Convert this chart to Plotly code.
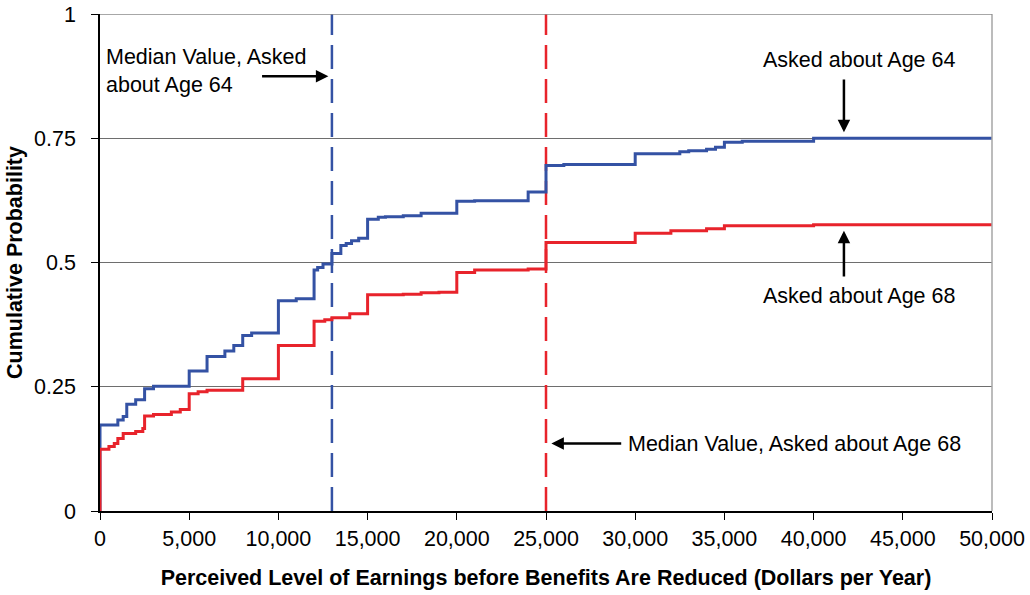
import plotly.graph_objects as go

# Blue: asked about age 64 (step CDF)
blue_x = [0, 0, 1000, 1300, 1500, 2000, 2500, 3000, 5000, 6000, 7000, 7500, 8000, 8500,
          10000, 11000, 12000, 12200, 12500, 13000, 13500, 13800, 14100, 14500, 15000,
          15600, 16000, 17000, 18000, 20000, 21000, 24000, 25000, 26000, 30000, 32500,
          33000, 34000, 34500, 35000, 36000, 40000, 50000]
blue_y = [0, 0.173, 0.183, 0.19, 0.215, 0.224, 0.246, 0.251, 0.2815, 0.311, 0.322, 0.333,
          0.353, 0.358, 0.423, 0.427, 0.485, 0.490, 0.497, 0.518, 0.534, 0.538, 0.544,
          0.549, 0.587, 0.591, 0.592, 0.594, 0.599, 0.623, 0.624, 0.642, 0.695, 0.697,
          0.719, 0.723, 0.725, 0.728, 0.732, 0.742, 0.744, 0.750, 0.750]

# Red: asked about age 68 (step CDF)
red_x = [0, 0, 500, 800, 1000, 1300, 2000, 2400, 2500, 3000, 4000, 4500, 5000, 5500, 6000,
         8000, 10000, 12000, 12600, 13000, 14000, 15000, 17000, 18000, 19000, 20000, 21000,
         24000, 25000, 30000, 32000, 34000, 35000, 40000, 49900, 50000]
red_y = [0, 0.124, 0.130, 0.136, 0.146, 0.156, 0.160, 0.166, 0.191, 0.194, 0.199, 0.204,
         0.236, 0.240, 0.243, 0.266, 0.333, 0.382, 0.385, 0.389, 0.397, 0.435, 0.436, 0.439,
         0.440, 0.480, 0.485, 0.487, 0.540, 0.559, 0.564, 0.568, 0.574, 0.576, 0.576, 0.579]

median_64 = 13000
median_68 = 25000

x_ticks = [0, 5000, 10000, 15000, 20000, 25000, 30000, 35000, 40000, 45000, 50000]
y_ticks = [0, 0.25, 0.5, 0.75, 1]
y_tick_text = ["0", "0.25", "0.5", "0.75", "1"]

BLUE = "#3452A4"
RED = "#E8232B"
FONT = "Liberation Sans, Arial, sans-serif"
FS = 21.5

fig = go.Figure()
fig.add_trace(go.Scatter(x=[median_64, median_64], y=[0, 1], mode="lines",
                         line=dict(color=BLUE, width=2.5, dash="24px,10px"),
                         showlegend=False, hoverinfo="skip"))
fig.add_trace(go.Scatter(x=[median_68, median_68], y=[0, 1], mode="lines",
                         line=dict(color=RED, width=2.5, dash="24px,10px"),
                         showlegend=False, hoverinfo="skip"))
fig.add_trace(go.Scatter(x=blue_x, y=blue_y, mode="lines", line_shape="hv",
                         line=dict(color=BLUE, width=3), showlegend=False, cliponaxis=False))
fig.add_trace(go.Scatter(x=red_x, y=red_y, mode="lines", line_shape="hv",
                         line=dict(color=RED, width=3), showlegend=False, cliponaxis=False))

ann_font = dict(family=FONT, size=FS, color="#000000")
arrow_common = dict(showarrow=True, arrowhead=2, arrowsize=1, arrowwidth=2.5,
                    arrowcolor="#000000", xref="x", yref="y", axref="x", ayref="y", text="")

annotations = [
    dict(x=12800, y=0.875, ax=9000, ay=0.875, **arrow_common),
    dict(x=41700, y=0.762, ax=41700, ay=0.871, **arrow_common),
    dict(x=41700, y=0.564, ax=41700, ay=0.469, **arrow_common),
    dict(x=25300, y=0.136, ax=29300, ay=0.136, **arrow_common),
    dict(x=250, y=0.886, xref="x", yref="y", text="Median Value, Asked<br>about Age 64",
         showarrow=False, xanchor="left", yanchor="middle", align="left", font=ann_font),
    dict(x=42550, y=0.908, xref="x", yref="y", text="Asked about Age 64",
         showarrow=False, xanchor="center", yanchor="middle", font=ann_font),
    dict(x=42550, y=0.432, xref="x", yref="y", text="Asked about Age 68",
         showarrow=False, xanchor="center", yanchor="middle", font=ann_font),
    dict(x=29500, y=0.134, xref="x", yref="y", text="Median Value, Asked about Age 68",
         showarrow=False, xanchor="left", yanchor="middle", font=ann_font),
]

fig.update_layout(
    width=1030, height=595,
    margin=dict(l=100, r=38, t=14, b=84),
    paper_bgcolor="white", plot_bgcolor="white",
    font=dict(family=FONT, size=FS, color="#000000"),
    annotations=annotations,
    shapes=[dict(type="line", xref="paper", yref="paper", x0=1, x1=1, y0=0, y1=1,
                 line=dict(color="#A6A6A6", width=1.5)),
            dict(type="line", xref="paper", yref="y", x0=0, x1=1, y0=1, y1=1,
                 line=dict(color="#8A8A8A", width=1.5))],
    xaxis=dict(range=[0, 50000], tickvals=x_ticks, tickformat=",d", automargin=False,
               showgrid=False, zeroline=False, showline=True, linecolor="#000000",
               linewidth=1.5, ticks="outside", ticklen=7, tickcolor="#000000",
               ticklabelstandoff=0, ticklabeloverflow="allow",
               tickfont=dict(family=FONT, size=FS),
               title=dict(text="<b>Perceived Level of Earnings before Benefits Are Reduced (Dollars per Year)</b>",
                          font=dict(family=FONT, size=FS), standoff=20)),
    yaxis=dict(range=[0, 1], tickvals=y_ticks, ticktext=y_tick_text, automargin=False,
               showgrid=True, gridcolor="#6E6E6E", gridwidth=1.2, zeroline=False,
               showline=True, linecolor="#000000", linewidth=1.5, ticks="outside",
               ticklen=7, tickcolor="#000000", ticklabelstandoff=11,
               ticklabeloverflow="allow",
               tickfont=dict(family=FONT, size=FS),
               title=dict(text="<b>Cumulative Probability</b>",
                          font=dict(family=FONT, size=FS), standoff=6)),
)

fig.write_html("out.html", config={"displayModeBar": False},
               post_script="document.body.style.margin='0px';")
